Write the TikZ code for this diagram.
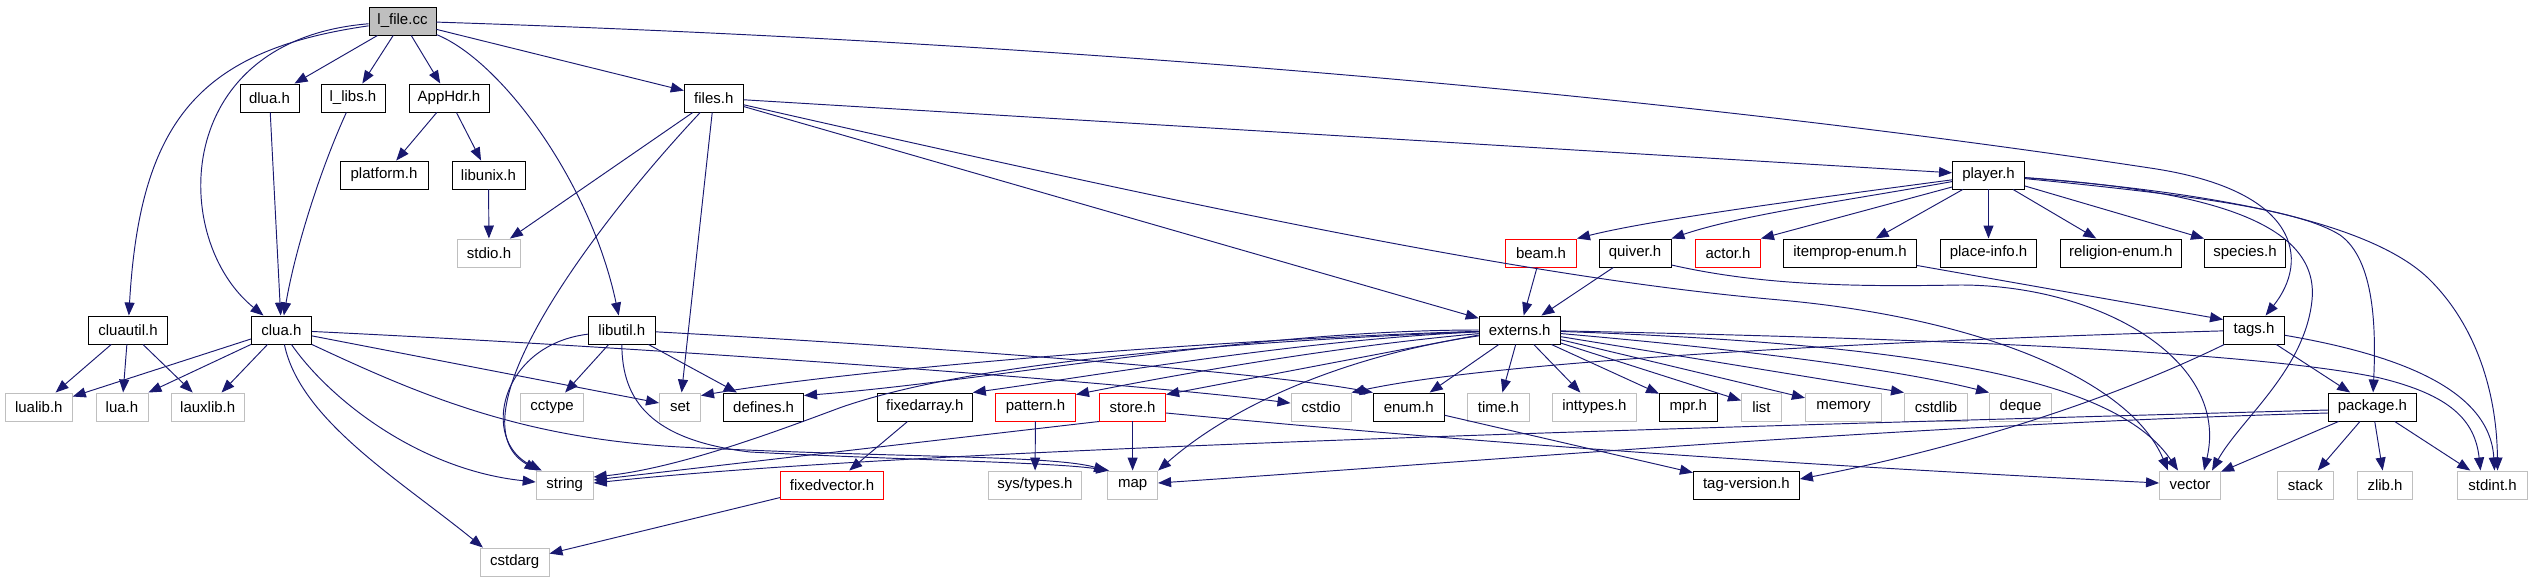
\documentclass[tikz,border=0pt]{standalone}
\usepackage{fontspec}
\setmainfont{Liberation Sans}
\usetikzlibrary{arrows.meta}
\definecolor{edgeblue}{HTML}{191970}
\definecolor{grayb}{HTML}{BFBFBF}
\definecolor{redb}{HTML}{FF0000}
\definecolor{rootfill}{HTML}{BFBFBF}
\tikzset{
  box/.style={draw, rectangle, minimum height=28pt, inner sep=0pt, line width=0.95pt, font=\fontsize{15}{18}\selectfont, text=black},
  doc/.style={box, draw=black},
  ext/.style={box, draw=grayb},
  undoc/.style={box, draw=redb},
  root/.style={box, draw=black, fill=rootfill},
  edge/.style={draw=edgeblue, line width=0.95pt, -{Triangle[length=13pt,width=10pt]}}
}
\begin{document}
\begin{tikzpicture}[x=1pt,y=-1pt]
\useasboundingbox (0,0) rectangle (2532,581);
% row 1
\node[root, minimum width=67pt] (lfile) at (402.5,21) {l\_file.cc};
% row 2
\node[doc, minimum width=59pt] (dlua) at (269.5,98) {dlua.h};
\node[doc, minimum width=64pt] (llibs) at (353,98) {l\_libs.h};
\node[doc, minimum width=80pt] (apphdr) at (449,98) {AppHdr.h};
\node[doc, minimum width=59pt] (files) at (713.8,98) {files.h};
% row 3
\node[doc, minimum width=88pt] (platform) at (384,175) {platform.h};
\node[doc, minimum width=73pt] (libunix) at (488.5,175) {libunix.h};
\node[doc, minimum width=72pt] (player) at (1988.5,175) {player.h};
% row 4
\node[ext, minimum width=63.5pt] (stdio) at (489,253) {stdio.h};
\node[undoc, minimum width=71pt] (beam) at (1541,253) {beam.h};
\node[doc, minimum width=72pt] (quiver) at (1635,253) {quiver.h};
\node[undoc, minimum width=65pt] (actor) at (1728,253) {actor.h};
\node[doc, minimum width=133pt] (itemprop) at (1850,253) {itemprop-enum.h};
\node[doc, minimum width=96pt] (placeinfo) at (1988.5,253) {place-info.h};
\node[doc, minimum width=121pt] (religion) at (2120.8,253) {religion-enum.h};
\node[doc, minimum width=81pt] (species) at (2245,253) {species.h};
% row 5
\node[doc, minimum width=79pt] (cluautil) at (128,330) {cluautil.h};
\node[doc, minimum width=60pt] (clua) at (281.4,330) {clua.h};
\node[doc, minimum width=67pt] (libutil) at (621.8,330) {libutil.h};
\node[doc, minimum width=81pt] (externs) at (1519.7,330) {externs.h};
\node[doc, minimum width=61pt] (tags) at (2254,330) {tags.h};
% row 6
\node[ext, minimum width=67pt] (lualib) at (38.8,407) {lualib.h};
\node[ext, minimum width=52pt] (lua) at (122,407) {lua.h};
\node[ext, minimum width=72.6pt] (lauxlib) at (207.7,407) {lauxlib.h};
\node[ext, minimum width=63.6pt] (cctype) at (552,407) {cctype};
\node[ext, minimum width=41pt] (set) at (680,407) {set};
\node[doc, minimum width=80pt] (defines) at (763.6,407) {defines.h};
\node[doc, minimum width=95pt] (fixedarray) at (924.8,407) {fixedarray.h};
\node[undoc, minimum width=80pt] (pattern) at (1035.5,407) {pattern.h};
\node[undoc, minimum width=66pt] (store) at (1132.6,407) {store.h};
\node[ext, minimum width=60pt] (cstdio) at (1321,407) {cstdio};
\node[doc, minimum width=71pt] (enum) at (1408.8,407) {enum.h};
\node[ext, minimum width=62pt] (time) at (1498.4,407) {time.h};
\node[ext, minimum width=84pt] (inttypes) at (1594.4,407) {inttypes.h};
\node[doc, minimum width=57.5pt] (mpr) at (1688.3,407) {mpr.h};
\node[ext, minimum width=40pt] (list) at (1761.4,407) {list};
\node[ext, minimum width=76pt] (memory) at (1843.4,407) {memory};
\node[ext, minimum width=63pt] (cstdlib) at (1936,407) {cstdlib};
\node[ext, minimum width=62pt] (deque) at (2020.5,407) {deque};
\node[doc, minimum width=88pt] (package) at (2372.4,407) {package.h};
% row 7
\node[ext, minimum width=57pt] (string) at (564.7,485) {string};
\node[undoc, minimum width=103pt] (fixedvector) at (832,485) {fixedvector.h};
\node[ext, minimum width=93pt] (systypes) at (1035,485) {sys/types.h};
\node[ext, minimum width=50pt] (map) at (1132.6,485) {map};
\node[doc, minimum width=106pt] (tagversion) at (1746.4,485) {tag-version.h};
\node[ext, minimum width=61pt] (vector) at (2190,485) {vector};
\node[ext, minimum width=56pt] (stack) at (2305.3,485) {stack};
\node[ext, minimum width=55pt] (zlib) at (2385,485) {zlib.h};
\node[ext, minimum width=70pt] (stdint) at (2492.5,485) {stdint.h};
% row 8
\node[ext, minimum width=68.6pt] (cstdarg) at (514.7,562) {cstdarg};

% l_file.cc
\draw[edge] (lfile) -- (dlua);
\draw[edge] (lfile) -- (llibs);
\draw[edge] (lfile) -- (apphdr);
\draw[edge] (lfile) -- (files);
\draw[edge] (lfile) .. controls (200,50) and (140,120) .. (cluautil);
\draw[edge] (lfile) .. controls (170,40) and (170,240) .. (clua);
\draw[edge] (lfile) .. controls (500,60) and (590,180) .. (libutil);
\draw[edge] (lfile) .. controls (1300,50) and (1900,130) .. (2150,168) .. controls (2300,190) and (2310,260) .. (tags);
% dlua, l_libs, AppHdr, libunix
\draw[edge] (dlua) -- (clua);
\draw[edge] (llibs) .. controls (320,170) and (295,250) .. (clua);
\draw[edge] (apphdr) -- (platform);
\draw[edge] (apphdr) -- (libunix);
\draw[edge] (libunix) -- (stdio);
% files.h
\draw[edge] (files) -- (stdio);
\draw[edge] (files) .. controls (590,230) and (450,420) .. ([xshift=2pt]string.north west);
\draw[edge] (files) -- (set);
\draw[edge] (files) -- (player);
\draw[edge] (files) -- (externs);
\draw[edge] (files) .. controls (1250,220) and (1550,280) .. (1780,300) .. controls (1980,318) and (2130,380) .. ([xshift=-22pt]vector.north);
% clua.h
\draw[edge] ([yshift=-9pt]clua.west) -- ([yshift=-4pt]lualib.north east);
\draw[edge] (clua.south west) -- (lua.north east);
\draw[edge] (clua) -- (lauxlib);
\draw[edge] (clua) .. controls (330,400) and (420,470) .. (string);
\draw[edge] (clua) .. controls (300,420) and (400,480) .. ([xshift=3pt]cstdarg.north west);
\draw[edge] (clua) -- (set);
\draw[edge] (clua.south east) .. controls (420,395) and (520,438) .. (680,447) .. controls (900,458) and (1050,455) .. (map.north west);
\draw[edge] (clua) .. controls (700,350) and (1150,385) .. (cstdio);
% cluautil.h
\draw[edge] (cluautil) -- (lualib);
\draw[edge] (cluautil) -- (lua);
\draw[edge] (cluautil) -- (lauxlib);
% libutil.h
\draw[edge] (libutil) -- (cctype);
\draw[edge] (libutil) .. controls (500,345) and (480,440) .. ([xshift=6pt]string.north west);
\draw[edge] (libutil) -- (defines);
\draw[edge] (libutil) .. controls (622,400) and (650,440) .. (750,452) .. controls (900,460) and (1050,462) .. ([xshift=2pt]map.north west);
\draw[edge] (libutil) .. controls (900,345) and (1250,370) .. (enum.north west);
% fixedarray, fixedvector, pattern, store
\draw[edge] (fixedarray) -- (fixedvector);
\draw[edge] (fixedvector) -- (cstdarg);
\draw[edge] (pattern) -- (systypes);
\draw[edge] (store) -- (map);
\draw[edge] (store.south west) -- ([yshift=5pt]string.east);
\draw[edge] ([yshift=-6pt]store.east) .. controls (1500,445) and (1800,465) .. ([yshift=2pt]vector.west);
% package.h
\draw[edge] ([yshift=-3pt]package.west) .. controls (1600,430) and (900,450) .. ([yshift=2pt]string.east);
\draw[edge] ([yshift=-6pt]package.west) .. controls (1900,425) and (1500,460) .. ([yshift=2pt]map.east);
\draw[edge] (package) -- (vector);
\draw[edge] (package) -- (stack);
\draw[edge] (package) -- (zlib);
\draw[edge] (package) -- (stdint);
% tags.h
\draw[edge] (tags) .. controls (1900,340) and (1500,360) .. (cstdio.north east);
\draw[edge] (tags) .. controls (2100,405) and (1950,450) .. ([yshift=6pt]tagversion.east);
\draw[edge] (tags) -- (package);
\draw[edge] (tags) .. controls (2400,355) and (2490,390) .. ([xshift=2pt]stdint.north);
% player.h
\draw[edge] (player) .. controls (1800,200) and (1650,220) .. (beam.north east);
\draw[edge] (player) .. controls (1850,200) and (1740,215) .. (quiver.north east);
\draw[edge] ([yshift=-12pt]player.west) -- (actor.north east);
\draw[edge] (player) -- (itemprop);
\draw[edge] (player) -- (placeinfo);
\draw[edge] (player) -- (religion);
\draw[edge] ([yshift=-11pt]player.east) -- (species.north west);
\draw[edge] (player) .. controls (2200,190) and (2320,220) .. (2312,300) .. controls (2305,370) and (2240,420) .. ([xshift=22pt]vector.north);
\draw[edge] (player) .. controls (2200,196) and (2300,210) .. (2340,235) .. controls (2375,260) and (2376,330) .. (package);
\draw[edge] (player) .. controls (2250,195) and (2380,230) .. (2430,280) .. controls (2480,330) and (2497,400) .. ([xshift=5pt]stdint.north);
% beam, quiver, itemprop
\draw[edge] (beam) -- (externs);
\draw[edge] (quiver) -- (externs);
\draw[edge] ([yshift=-12pt]quiver.east) .. controls (1760,285) and (1850,287) .. (1960,285) .. controls (2100,285) and (2230,360) .. ([xshift=14pt]vector.north);
\draw[edge] ([yshift=2pt]itemprop.south east) -- ([yshift=-4pt]tags.north west);
% externs.h, leftwards
\draw[edge] (externs) .. controls (1200,340) and (850,370) .. ([yshift=-3pt]set.north east);
\draw[edge] (externs) .. controls (1250,330) and (1000,380) .. ([yshift=-3pt]defines.north east);
\draw[edge] (externs) .. controls (1300,340) and (1100,375) .. (fixedarray.north east);
\draw[edge] (externs) .. controls (1350,345) and (1200,370) .. ([yshift=-2pt]pattern.north east);
\draw[edge] ([yshift=-5pt]externs.west) -- ([yshift=-2pt]store.north east);
\draw[edge] (externs) .. controls (1380,350) and (1250,390) .. (map.north east);
\draw[edge] (externs) .. controls (1150,345) and (950,370) .. (842,407) .. controls (780,430) and (680,468) .. ([yshift=8pt]string.east);
% externs.h, downwards and rightwards
\draw[edge] (externs) -- (enum);
\draw[edge] (externs) -- (time);
\draw[edge] (externs) -- (inttypes);
\draw[edge] (externs) -- (mpr);
\draw[edge] (externs) -- (list);
\draw[edge] (externs) -- (memory);
\draw[edge] (externs) -- (cstdlib.north west);
\draw[edge] (externs) .. controls (1750,350) and (1900,370) .. (deque.north west);
\draw[edge] (externs) .. controls (1950,345) and (2120,385) .. ([xshift=-12pt]vector.north);
\draw[edge] (externs) .. controls (1900,338) and (2250,350) .. (2380,378) .. controls (2450,395) and (2475,420) .. ([xshift=-12pt]stdint.north);
% enum.h
\draw[edge] (enum) -- (tagversion);
\end{tikzpicture}
\end{document}
